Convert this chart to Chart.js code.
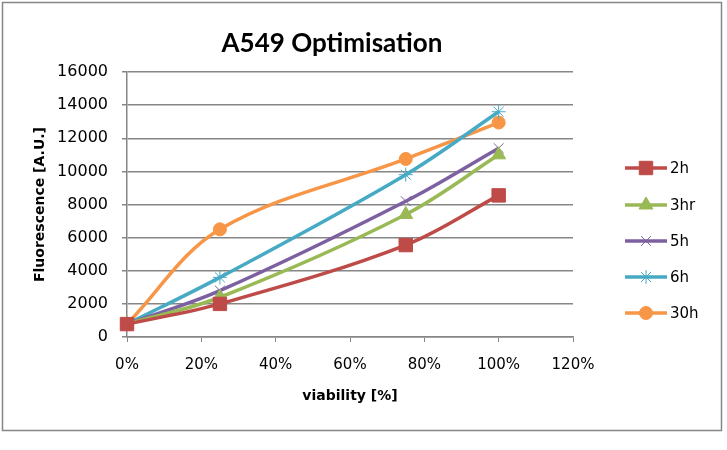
<!DOCTYPE html>
<html>
<head>
<meta charset="utf-8">
<script src="https://cdn.jsdelivr.net/npm/chart.js@4"></script>
<style>
  html, body { margin: 0; padding: 0; background: #fff; }
  #wrap { width: 727px; height: 450px; }
</style>
</head>
<body>
<div id="wrap"><canvas id="chart" width="727" height="450"></canvas></div>
<script>
// viability (fraction) on x, fluorescence on y
const viability = [0, 0.25, 0.75, 1.0];
const seriesNames = ["2h", "3hr", "5h", "6h", "30h"];
const v2h  = [780, 2000, 5550, 8550];
const v3hr = [780, 2400, 7400, 11000];
const v5h  = [780, 2800, 8200, 11400];
const v6h  = [780, 3600, 9800, 13600];
const v30h = [780, 6500, 10750, 12950];
const yTicks = [0, 2000, 4000, 6000, 8000, 10000, 12000, 14000, 16000];
const xTicks = [0, 0.2, 0.4, 0.6, 0.8, 1.0, 1.2];

const colors = ["#BE4B48", "#98B954", "#7D60A0", "#46AAC5", "#F79646"];
const styles = [
    { pointStyle: 'rect', radius: 9.5, bw: 1 },
    { pointStyle: 'triangle', radius: 8, bw: 1 },
    { pointStyle: 'crossRot', radius: 7, bw: 1 },
    { pointStyle: 'star', radius: 7, bw: 1 },
    { pointStyle: 'circle', radius: 6.5, bw: 1 }
];
const allValues = [v2h, v3hr, v5h, v6h, v30h];

const datasets = allValues.map((vals, i) => ({
    label: seriesNames[i],
    data: vals.map((v, j) => ({ x: viability[j], y: v })),
    borderColor: colors[i],
    backgroundColor: colors[i],
    borderWidth: 3.5,
    tension: 0.35,
    pointStyle: styles[i].pointStyle,
    pointRadius: styles[i].radius,
    pointBorderWidth: styles[i].bw,
    pointBackgroundColor: colors[i],
    pointBorderColor: colors[i],
    clip: false
}));

const fontFam = "'DejaVu Sans', sans-serif";

// frame, title and legend
const decorPlugin = {
    id: 'decor',
    beforeDraw(chart) {
        const ctx = chart.ctx;
        ctx.save();
        ctx.fillStyle = '#fff';
        ctx.fillRect(0, 0, chart.width, chart.height);
        ctx.strokeStyle = '#868686';
        ctx.lineWidth = 1.5;
        ctx.strokeRect(2.5, 2.5, 719, 428);
        ctx.restore();
    },
    afterDraw(chart) {
        const ctx = chart.ctx;
        ctx.save();
        ctx.fillStyle = '#000';
        ctx.font = "bold 26px Lato, sans-serif";
        ctx.textAlign = 'center';
        ctx.textBaseline = 'middle';
        ctx.fillText("A549 Optimisation", 332, 44);

        // legend
        const ys = [168, 205, 241, 277, 313];
        seriesNames.forEach((name, i) => {
            const y = ys[i];
            ctx.strokeStyle = colors[i];
            ctx.lineWidth = 3.5;
            ctx.beginPath();
            ctx.moveTo(625, y);
            ctx.lineTo(667, y);
            ctx.stroke();
            ctx.fillStyle = colors[i];
            ctx.lineWidth = styles[i].bw;
            Chart.helpers.drawPoint(ctx, {
                pointStyle: styles[i].pointStyle,
                radius: styles[i].radius,
                rotation: 0,
                borderWidth: styles[i].bw
            }, 646, y);
            ctx.fillStyle = '#000';
            ctx.font = "15px " + fontFam;
            ctx.textAlign = 'left';
            ctx.textBaseline = 'middle';
            ctx.fillText(name, 670, y + 1);
        });
        ctx.restore();
    }
};

new Chart(document.getElementById('chart'), {
    type: 'line',
    data: { datasets: datasets },
    plugins: [decorPlugin],
    options: {
        responsive: false,
        animation: false,
        layout: { padding: { left: 0, top: 72, right: 154, bottom: 40 } },
        plugins: {
            legend: { display: false },
            title: { display: false },
            tooltip: { enabled: false }
        },
        scales: {
            x: {
                type: 'linear',
                min: 0,
                max: 1.2,
                afterBuildTicks: (axis) => { axis.ticks = xTicks.map(v => ({ value: v })); },
                afterFit: (axis) => { axis.height = 73; },
                ticks: {
                    color: '#000',
                    font: { family: fontFam, size: 15 },
                    padding: 14,
                    callback: (v) => Math.round(v * 100) + '%'
                },
                grid: { drawOnChartArea: false, drawTicks: true, tickLength: 5, color: '#868686' },
                border: { color: '#868686', width: 1.5 },
                title: {
                    display: true,
                    text: 'viability [%]',
                    color: '#000',
                    font: { family: fontFam, size: 14, weight: 'bold' },
                    padding: { top: 0, bottom: 5 }
                }
            },
            y: {
                min: 0,
                max: 16000,
                afterBuildTicks: (axis) => { axis.ticks = yTicks.map(v => ({ value: v })); },
                afterFit: (axis) => { axis.width = 127; },
                ticks: {
                    color: '#000',
                    font: { family: fontFam, size: 16 },
                    padding: 14,
                    callback: (v) => String(v)
                },
                grid: { color: '#868686', lineWidth: 1.5, tickLength: 5 },
                border: { color: '#868686', width: 1.5 },
                title: {
                    display: true,
                    text: 'Fluorescence [A.U.]',
                    color: '#000',
                    font: { family: fontFam, size: 14, weight: 'bold' },
                    padding: { top: 32, bottom: 0 }
                }
            }
        }
    }
});
</script>
</body>
</html>
